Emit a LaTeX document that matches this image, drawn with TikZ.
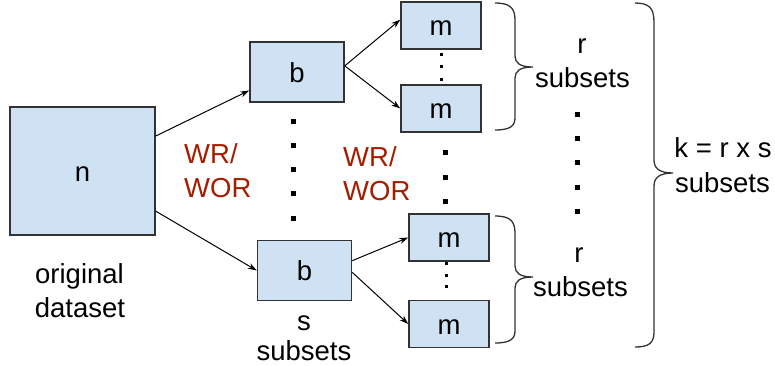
\documentclass[tikz,border=0pt]{standalone}
\usepackage{fontspec}
\setmainfont{Liberation Sans}
\usetikzlibrary{arrows.meta,calc}
\definecolor{boxfill}{HTML}{CFE2F3}
\definecolor{boxline}{HTML}{333333}
\definecolor{wrred}{RGB}{166,28,0}
\begin{document}
\begin{tikzpicture}[x=1pt,y=-1pt,
  every node/.style={font=\fontsize{27.5}{33}\selectfont},
  databox/.style={draw=boxline,fill=boxfill,line width=1.5pt,inner sep=0pt,
     text height=20pt,text depth=0pt},
  nbox/.style={databox,minimum width=145pt,minimum height=128pt},
  bbox/.style={databox,minimum width=94pt,minimum height=60pt},
  mbox/.style={databox,minimum width=80pt,minimum height=47pt},
  conn/.style={line width=1pt,-{Stealth[length=9pt,width=6pt]}},
  lbl/.style={anchor=base,inner sep=0pt},
  redlbl/.style={anchor=base west,inner sep=0pt,text=wrred},
  bigdot/.style={fill=black,minimum size=5pt,inner sep=0pt,draw=none},
  smalldot/.style={fill=black,minimum size=3pt,inner sep=0pt,draw=none},
  brace/.style={draw=boxline,line width=1.3pt}
]
\useasboundingbox (0,0) rectangle (775,365);

% boxes
\node[nbox] (n) at (82.5,171) {n};
\node[bbox] (b1) at (297,72) {b};
\node[bbox] (b2) at (304.5,270.5) {b};
\node[mbox] (m1) at (441,25.5) {m};
\node[mbox] (m2) at (441,108.5) {m};
\node[mbox] (m3) at (449,237.5) {m};
\node[mbox] (m4) at (449,324) {m};

% connectors
\draw[conn] ($(n.north east)!0.23!(n.south east)$) -- ($(b1.north west)!0.8!(b1.south west)$);
\draw[conn] ($(n.north east)!0.81!(n.south east)$) -- (b2.west);
\draw[conn] ($(b1.north east)!0.4!(b1.south east)$) -- ($(m1.north west)!0.38!(m1.south west)$);
\draw[conn] ($(b1.north east)!0.4!(b1.south east)$) -- (m2.west);
\draw[conn] ($(b2.north east)!0.34!(b2.south east)$) -- (m3.west);
\draw[conn] ($(b2.north east)!0.53!(b2.south east)$) -- (m4.west);

% dots between b boxes
\foreach \y [count=\i] in {121,145,169,193,218} \node[bigdot] (db\i) at (293,\y) {};
% dots between m2 and m3
\foreach \y [count=\i] in {152,177,201} \node[bigdot] (dm\i) at (445,\y) {};
% dots in right column
\foreach \y [count=\i] in {114,138,162,187,211} \node[bigdot] (dr\i) at (577,\y) {};
% small dots
\foreach \y [count=\i] in {54.7,66.7,79} \node[smalldot] (sa\i) at (441,\y) {};
\foreach \y [count=\i] in {263.3,275,286.7} \node[smalldot] (sb\i) at (446,\y) {};

% braces
\draw[brace] (495,3) .. controls (510,3) and (515,8) .. (515,20) -- (515,56)
  .. controls (515,63) and (520,67) .. (533,67)
  .. controls (520,67) and (515,71) .. (515,78) -- (515,118)
  .. controls (515,126) and (510,130) .. (495,130);
\draw[brace] (495,216) .. controls (510,216) and (515,221) .. (515,233) -- (515,266)
  .. controls (515,273) and (520,277) .. (533,277)
  .. controls (520,277) and (515,281) .. (515,288) -- (515,331)
  .. controls (515,339) and (510,343) .. (495,343);
\draw[brace] (635,3) .. controls (649,3) and (654,8) .. (654,22) -- (654,160)
  .. controls (654,168) and (659,173) .. (673,173)
  .. controls (659,173) and (654,178) .. (654,186) -- (654,332)
  .. controls (654,343) and (649,347) .. (635,347);

% labels
\node[redlbl] (wr1) at (184,163) {WR/};
\node[redlbl] (wor1) at (184,197) {WOR};
\node[redlbl] (wr2) at (343,166) {WR/};
\node[redlbl] (wor2) at (343,200) {WOR};
\node[lbl] (orig) at (79.5,283) {original};
\node[lbl] (dset) at (80,317) {dataset};
\node[lbl] (s) at (304,330) {s};
\node[lbl] (ssub) at (304,360) {subsets};
\node[lbl] (r1) at (582,53) {r};
\node[lbl] (r1sub) at (582.5,87) {subsets};
\node[lbl] (r2) at (579,262) {r};
\node[lbl] (r2sub) at (580.5,296) {subsets};
\node[lbl] (k) at (723,157) {k = r x s};
\node[lbl] (ksub) at (722.5,192) {subsets};
\end{tikzpicture}
\end{document}
